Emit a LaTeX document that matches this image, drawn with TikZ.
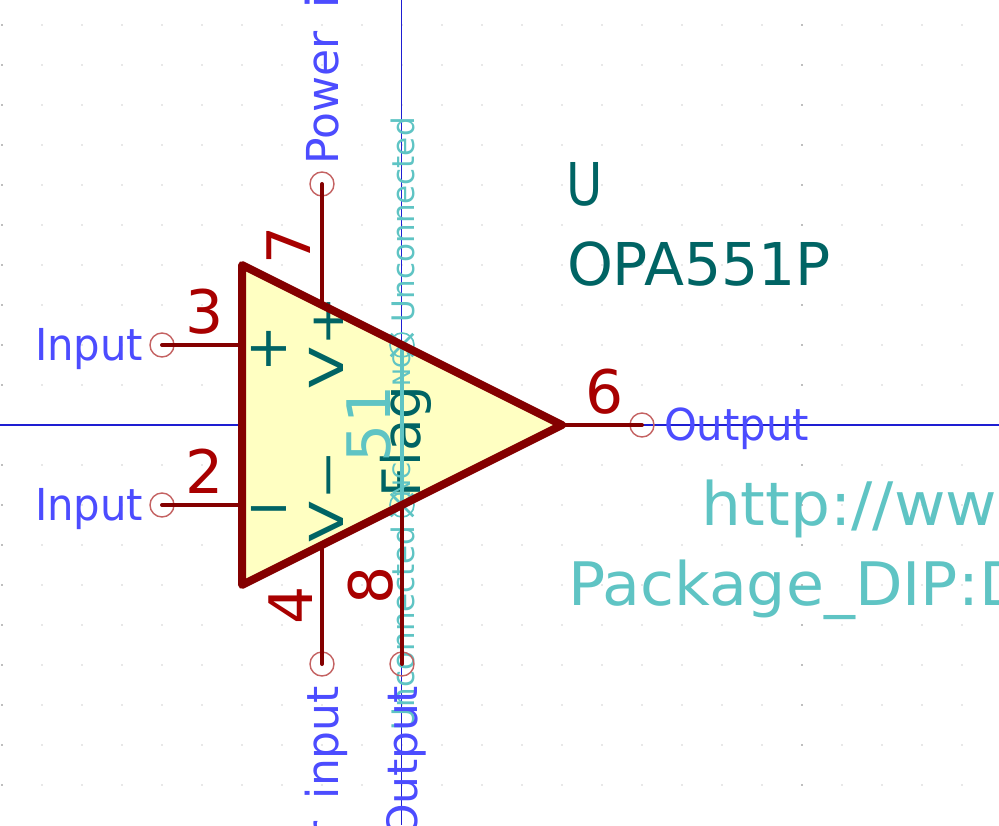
\documentclass[tikz,border=0pt]{standalone}
\usepackage{fontspec}
\setmainfont{DejaVu Sans}
\usetikzlibrary{shapes.misc}
\definecolor{pinred}{RGB}{132,0,0}
\definecolor{numred}{RGB}{168,0,0}
\definecolor{ringred}{RGB}{196,98,98}
\definecolor{bodyfill}{RGB}{255,255,194}
\definecolor{nameteal}{RGB}{0,100,100}
\definecolor{fieldcyan}{RGB}{95,196,196}
\definecolor{typeblue}{RGB}{76,76,255}
\definecolor{axisblue}{RGB}{30,30,210}

\begin{document}
\begin{tikzpicture}[
      x=1pt, y=-1pt,
      griddot/.style={fill=gray!35, draw=none},
      griddark/.style={fill=gray!85, draw=none},
      axisline/.style={color=axisblue, line width=1.3pt},
      bodyline/.style={color=pinred, line width=8pt, line join=round},
      pinline/.style={color=pinred, line width=4pt, line cap=round},
      pinend/.style={circle, draw=ringred, line width=1.4pt, minimum size=24pt, inner sep=0pt},
      ncline/.style={color=fieldcyan, line width=3.5pt},
      ncring/.style={circle, draw=fieldcyan, line width=1.6pt, minimum size=24pt, inner sep=0pt},
      nccross/.style={cross out, draw=fieldcyan, line width=2.5pt, minimum size=20pt, inner sep=0pt},
      lbl/.style={inner sep=0pt, outer sep=0pt},
      up/.style={rotate=90},
      typetext/.style={lbl, text=typeblue, font=\fontsize{44}{44}\selectfont},
      typenarrow/.style={typetext, xscale=0.95},
      numtext/.style={lbl, text=numred, font=\fontsize{60}{60}\selectfont},
      nametext/.style={lbl, text=nameteal, font=\fontsize{56}{56}\selectfont},
      nameV/.style={lbl, text=nameteal, font=\fontsize{60}{60}\selectfont, xscale=0.78},
      reftext/.style={lbl, text=nameteal, font=\fontsize{59}{59}\selectfont, xscale=0.99},
      fieldtext/.style={lbl, text=fieldcyan, font=\fontsize{60}{60}\selectfont},
      nctext/.style={lbl, text=fieldcyan, font=\fontsize{31}{31}\selectfont},
      ncsmall/.style={lbl, text=fieldcyan, font=\fontsize{24}{24}\selectfont}
    ]
      \useasboundingbox (0,0) rectangle (999,825);
      \clip (0,0) rectangle (999,825);
      \fill[white] (0,0) rectangle (999,825);

      % Grid and axes
      \foreach \gx in {2,42,...,962} {
        \foreach \gy in {25,65,...,785} {
          \fill[griddot] (\gx,\gy) circle (0.9pt);
        }
      }
      \foreach \gy in {25,65,...,785} {
        \fill[griddark] (802,\gy) circle (0.9pt);
        \fill[griddark] (2,\gy) circle (0.9pt);
      }
      \coordinate (axistop) at (401.5,0);
      \coordinate (axisbottom) at (401.5,825);
      \coordinate (axisleft) at (0,425);
      \coordinate (axisright) at (999,425);
      \draw[axisline] (axistop) -- (axisbottom);
      \draw[axisline] (axisleft) -- (axisright);

      % Body corners and pin feet
      \coordinate (bodytop) at (242,265);
      \coordinate (bodybottom) at (242,585);
      \coordinate (bodytip) at (562,425);
      \coordinate (foot3) at (242,345);
      \coordinate (foot2) at (242,505);
      \coordinate (foot7) at (322,305);
      \coordinate (foot4) at (322,545);
      \coordinate (foot8) at (402,505);
      \fill[bodyfill] (bodytop) -- (bodytip) -- (bodybottom) -- cycle;

      % Names inside the body
      \node[nametext, anchor=base] (nameplus) at (269,366) {+};
      \node[nametext, anchor=base] (nameminus) at (269,526) {−};
      \node[nameV, up, anchor=base west] (namevplus) at (343,388) {V+};
      \node[nameV, up, anchor=base west] (namevminus) at (343,542) {V−};
      \node[nametext, up, anchor=base west, font=\fontsize{53}{53}\selectfont] (nameflag) at (420,497) {Flag};

      % Cyan fields and unconnected pins
      \node[fieldtext, up, anchor=base west] (fieldvalue) at (390,462) {51};
      \node[ncring] (nctop) at (402,345) {};
      \node[ncring] (ncbottom) at (402,505) {};
      \node[nccross] (nctopx) at (402,345) {};
      \node[nccross] (ncbottomx) at (402,505) {};
      \draw[ncline] (nctop.center) -- (ncbottom.center);
      \node[ncsmall, up] (nctoptext) at (402,369) {NC};
      \node[ncsmall, up] (ncbottomtext) at (402,480) {NC};
      \node[nctext, up, anchor=base west] (unctop) at (414,322) {Unconnected};
      \node[nctext, up, anchor=base west] (uncbottom) at (414,730) {Unconnected};

      \draw[bodyline] (bodytop) -- (bodytip) -- (bodybottom) -- cycle;

      % Pins
      \node[pinend] (pin3) at (162,345) {};
      \node[pinend] (pin2) at (162,505) {};
      \node[pinend] (pin7) at (322,184) {};
      \node[pinend] (pin4) at (322,664) {};
      \node[pinend] (pin8) at (402,664) {};
      \node[pinend] (pin6) at (642,425) {};
      \draw[pinline] (pin3.center) -- (foot3);
      \draw[pinline] (pin2.center) -- (foot2);
      \draw[pinline] (pin7.center) -- (foot7);
      \draw[pinline] (pin4.center) -- (foot4);
      \draw[pinline] (pin8.center) -- (foot8);
      \draw[pinline] (pin6.center) -- (bodytip);

      % Pin numbers
      \node[numtext, anchor=base west] (num3) at (185,333) {3};
      \node[numtext, anchor=base west] (num2) at (185,493) {2};
      \node[numtext, anchor=base west] (num6) at (585,413) {6};
      \node[numtext, up, anchor=base west] (num7) at (310,264) {7};
      \node[numtext, up, anchor=base west] (num4) at (312,624) {4};
      \node[numtext, up, anchor=base west] (num8) at (392,604) {8};

      % Pin types
      \node[typenarrow, anchor=base west] (type3) at (35,360) {Input};
      \node[typenarrow, anchor=base west] (type2) at (35,520) {Input};
      \node[typenarrow, anchor=base west] (type6) at (664,440) {Output};
      \node[typetext, up, anchor=base west] (type7) at (338,164) {Power\hspace{0.5em}input};
      \node[typetext, up, anchor=base east] (type4) at (338,686) {Power\hspace{0.5em}input};
      \node[typenarrow, up, anchor=base east] (type8) at (417,686) {Output};

      % Reference and fields on the right
      \node[reftext, anchor=base west, xscale=0.85] (refname) at (566,205) {U};
      \node[reftext, anchor=base west] (refvalue) at (567,285) {OPA551P};
      \node[fieldtext, anchor=base west, xscale=1.05] (fieldurl) at (701,525) {http://ww};
      \node[fieldtext, anchor=base west, xscale=1.03] (fieldfoot) at (568,605) {Package\_DIP:D};
    \end{tikzpicture}
\end{document}
